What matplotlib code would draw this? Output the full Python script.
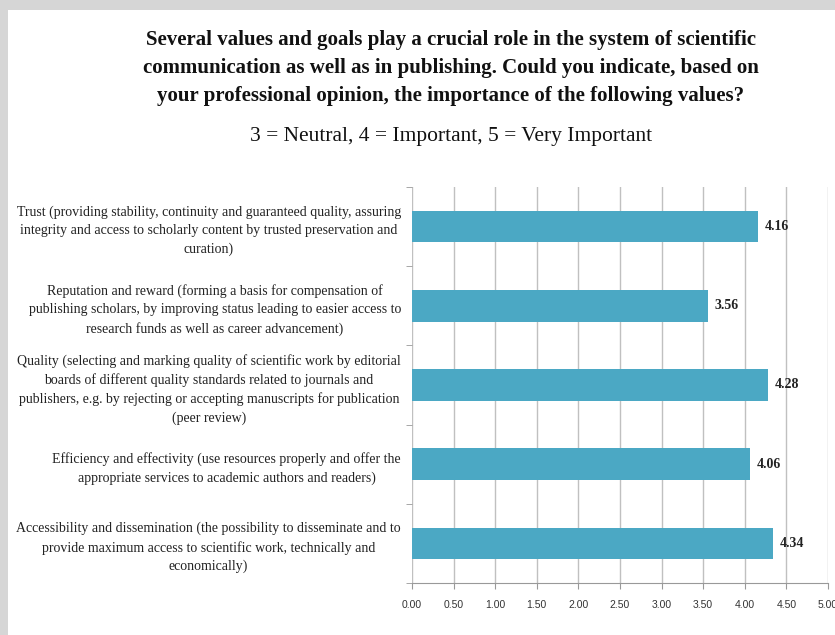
import matplotlib
matplotlib.use("Agg")
import matplotlib.pyplot as plt
from matplotlib.patches import Rectangle
from matplotlib.ticker import FixedLocator

categories = [
    "Trust (providing stability, continuity and guaranteed quality, assuring\nintegrity and access to scholarly content by trusted preservation and\ncuration)",
    "Reputation and reward (forming a basis for compensation of\npublishing scholars, by improving status leading to easier access to\nresearch funds as well as career advancement)",
    "Quality (selecting and marking quality of scientific work by editorial\nboards of different quality standards related to journals and\npublishers, e.g. by rejecting or accepting manuscripts for publication\n(peer review)",
    "Efficiency and effectivity (use resources properly and offer the\nappropriate services to academic authors and readers)",
    "Accessibility and dissemination (the possibility to disseminate and to\nprovide maximum access to scientific work, technically and\neconomically)",
]
values = [4.16, 3.56, 4.28, 4.06, 4.34]
xticks = [0.0, 0.5, 1.0, 1.5, 2.0, 2.5, 3.0, 3.5, 4.0, 4.5, 5.0]
xtick_labels = ["%.2f" % v for v in xticks]

title = ("Several values and goals play a crucial role in the system of scientific\n"
         "communication as well as in publishing. Could you indicate, based on\n"
         "your professional opinion, the importance of the following values?")
subtitle = "3 = Neutral, 4 = Important, 5 = Very Important"

W, H = 835, 635
fig = plt.figure(figsize=(W / 100, H / 100), dpi=100)
fig.patch.set_facecolor("white")
# screenshot frame shadow
fig.patches.append(Rectangle((0, 1 - 10 / H), 1, 10 / H, transform=fig.transFigure,
                             facecolor="#d6d6d6", edgecolor="none", zorder=0))
fig.patches.append(Rectangle((0, 0), 8 / W, 1, transform=fig.transFigure,
                             facecolor="#d6d6d6", edgecolor="none", zorder=0))

ax = fig.add_axes([412 / W, 1 - 583 / H, (828 - 412) / W, (583 - 187) / H])
ax.set_facecolor("none")

n = len(categories)
ypos = list(range(n))
ax.barh(ypos, values, height=0.4, color="#4BA8C4", zorder=3)
for y, v in zip(ypos, values):
    ax.text(v + 0.08, y, "%.2f" % v, va="center", ha="left",
            fontsize=10, fontweight="bold", family="Liberation Serif", color="#222222", zorder=4)

ax.set_xlim(0, 5)
ax.set_ylim(n - 0.5, -0.5)
ax.set_xticks(xticks)
ax.set_xticklabels(xtick_labels, fontsize=7.5, family="Liberation Sans", color="#333333")
ax.xaxis.grid(True, color="#c0c0c0", linewidth=1.0, zorder=0)
ax.set_axisbelow(True)

ax.set_yticks(ypos)
ax.set_yticklabels(categories, fontsize=10, family="Liberation Serif",
                   multialignment="center", color="#222222", linespacing=1.5)
ax.tick_params(axis="y", which="major", length=0, pad=8)
ax.yaxis.set_minor_locator(FixedLocator([i - 0.5 for i in range(n + 1)]))
ax.tick_params(axis="y", which="minor", length=4, color="#999999", direction="out")
ax.tick_params(axis="x", length=4, color="#999999", pad=8)

for s in ["top", "right", "left"]:
    ax.spines[s].set_visible(False)
ax.spines["bottom"].set_color("#999999")

fig.text(451 / W, 1 - 68 / H, title, ha="center", va="center", fontsize=15,
         fontweight="bold", family="Liberation Serif", linespacing=1.55, color="#111111")
fig.text(451 / W, 1 - 137 / H, subtitle, ha="center", va="center", fontsize=15.5,
         family="Liberation Serif", color="#111111")

fig.savefig("out.png", dpi=100)
